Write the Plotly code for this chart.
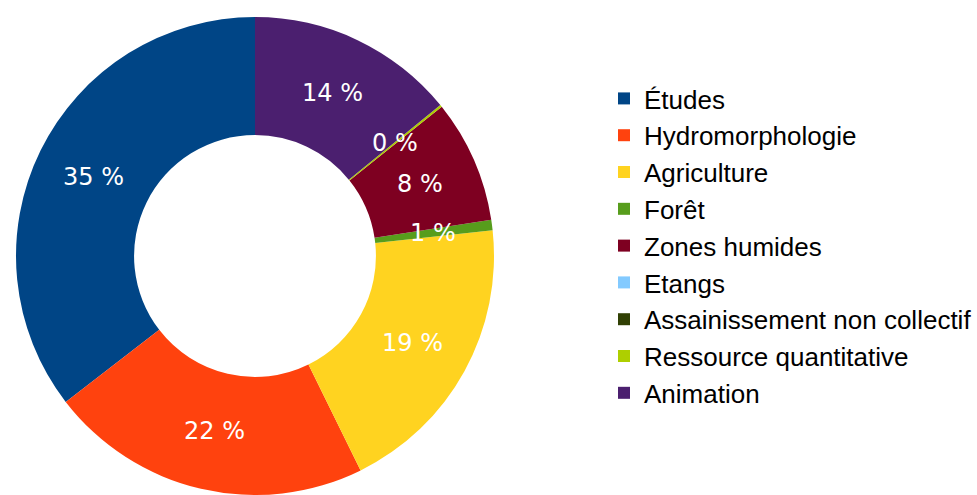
import math
import plotly.graph_objects as go

categories = ["Études", "Hydromorphologie", "Agriculture", "Forêt", "Zones humides",
              "Etangs", "Assainissement non collectif", "Ressource quantitative", "Animation"]
values = [35.4, 21.8, 19.4, 0.7, 8.3, 0, 0, 0.15, 14.1]
colors = ["#004586", "#ff420e", "#ffd320", "#579d1c", "#7e0021",
          "#83caff", "#314004", "#aecf00", "#4b1f6f"]

W, H = 977, 495
cx, cy, R = 255, 256, 239
HOLE = 0.506

total = sum(values)
# counterclockwise, with the first slice starting at 12 o'clock
start_rotation = -values[0] / total * 360

fig = go.Figure(go.Pie(
    labels=categories,
    values=values,
    textinfo="none",
    marker=dict(colors=colors, line=dict(width=0)),
    hole=HOLE,
    sort=False,
    direction="counterclockwise",
    rotation=start_rotation,
    domain=dict(x=[(cx - R) / W, (cx + R) / W], y=[0, 2 * R / H]),
    hoverinfo="label+percent",
))

# percentage labels at the middle of the ring, placed from the data
r_mid = R * (1 + HOLE) / 2
cum = 0.0
annotations = []
for v in values:
    if v > 0:
        mid = (cum + v / 2) / total * 2 * math.pi  # counterclockwise from 12 o'clock
        x = cx - r_mid * math.sin(mid)
        y = cy - r_mid * math.cos(mid)
        annotations.append(dict(
            x=x / W, y=1 - y / H, xref="paper", yref="paper",
            text=f"{v / total * 100:.0f} %", showarrow=False,
            xanchor="center", yanchor="middle",
            font=dict(family="DejaVu Sans", size=24, color="white"),
        ))
    cum += v

fig.update_layout(
    width=W, height=H,
    margin=dict(l=0, r=0, t=0, b=0),
    paper_bgcolor="white",
    plot_bgcolor="white",
    annotations=annotations,
    legend=dict(
        x=604 / W, xanchor="left",
        y=0.503, yanchor="middle",
        font=dict(family="Liberation Sans", size=26, color="#000000"),
        bgcolor="rgba(0,0,0,0)",
        traceorder="normal",
    ),
    showlegend=True,
)

fig.write_html("out.html", config={"displayModeBar": False},
               post_script="document.body.style.margin='0';")
